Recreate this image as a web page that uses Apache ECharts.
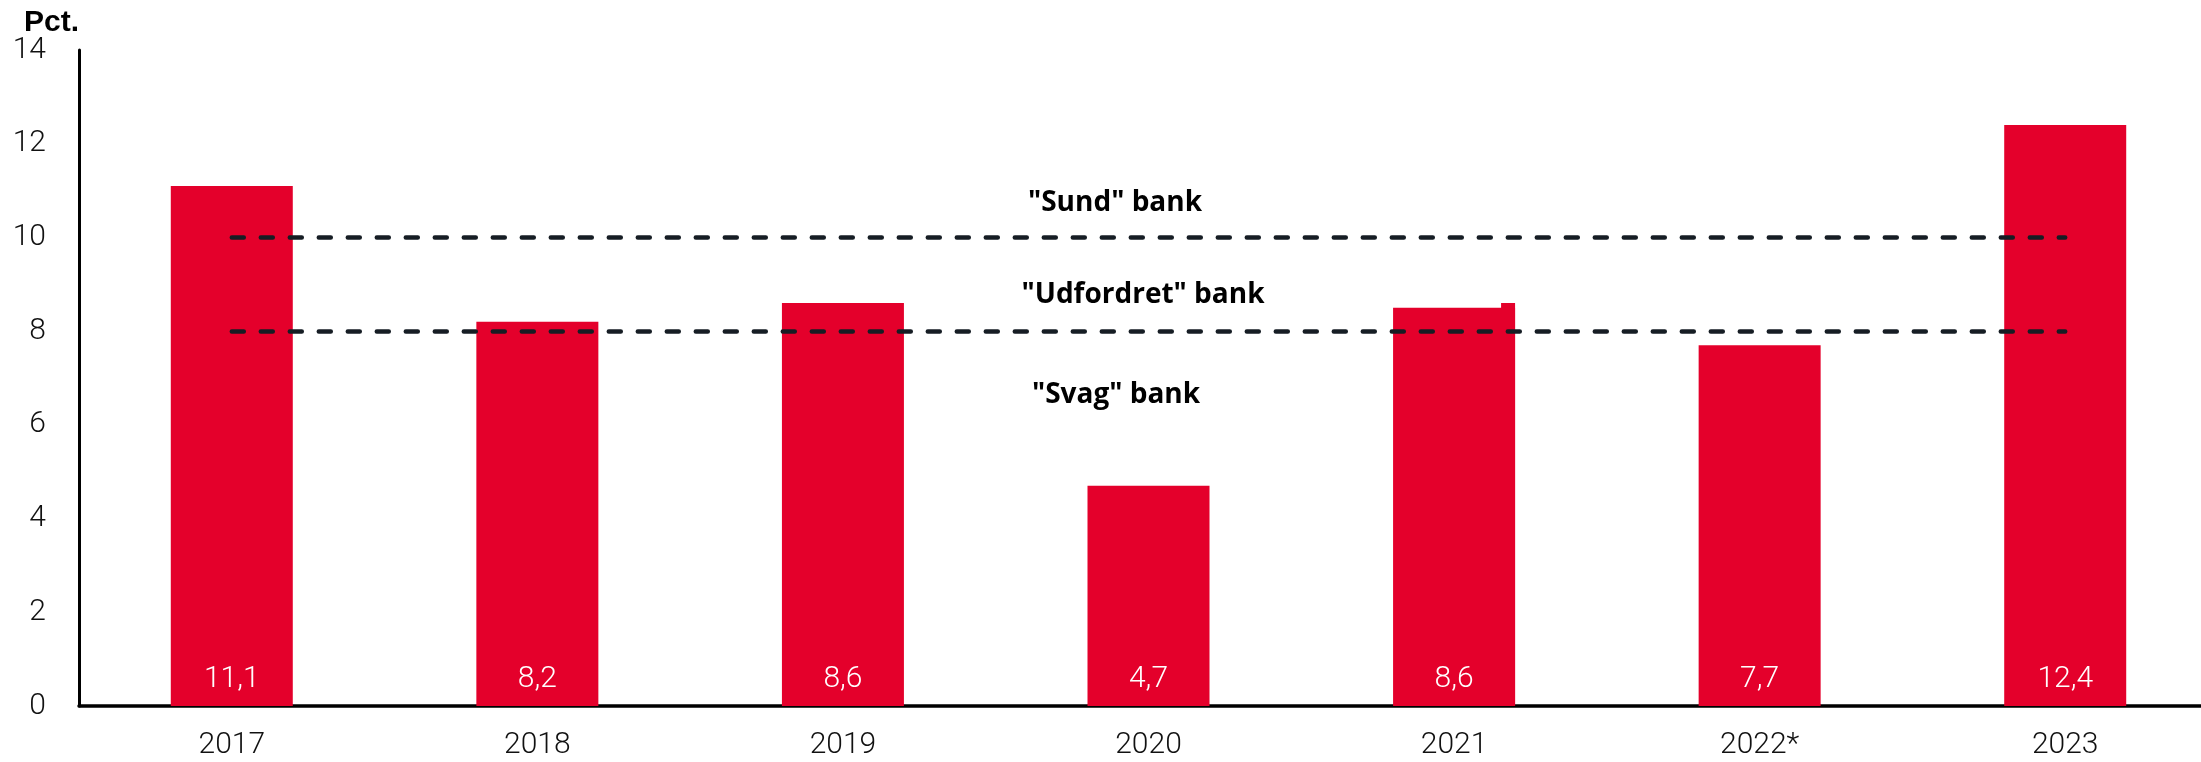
<!DOCTYPE html>
<html>
<head>
<meta charset="utf-8">
<script src="https://cdn.jsdelivr.net/npm/echarts@6/dist/echarts.min.js"></script>
<style>
  html, body { margin: 0; padding: 0; background: #ffffff; overflow: hidden; width: 2201px; height: 762px; }
  #chart { width: 2218px; height: 762px; }
</style>
</head>
<body>
<div id="chart"></div>
<script>
const categories = ['2017', '2018', '2019', '2020', '2021', '2022*', '2023'];
const barValues = [11.1, 8.2, 8.6, 4.7, 8.5, 7.7, 12.4];
const barLabels = ['11,1', '8,2', '8,6', '4,7', '8,6', '7,7', '12,4'];
const stepValues = [null, null, null, null, 8.6, null, null];
const thresholds = [10, 8];
const bandNames = ['"Sund" bank', '"Udfordret" bank', '"Svag" bank'];
const yTitle = 'Pct.';

const RED = '#e4002b';
const BAR_W = 122;
const labelFont = 'Roboto';

const chart = echarts.init(document.getElementById('chart'), null, { renderer: 'canvas' });

const stepData = stepValues.map((v, i) => [i, v]).filter(d => d[1] != null);

const option = {
  animation: false,
  backgroundColor: '#ffffff',
  grid: { left: 79, top: 50, right: 0, bottom: 56 },
  xAxis: {
    type: 'category',
    data: categories,
    axisLine: { show: true, lineStyle: { color: '#000000', width: 3.5 } },
    axisTick: { show: false },
    axisLabel: { color: '#111111', fontSize: 30, fontFamily: labelFont, fontWeight: 300, margin: 24 }
  },
  yAxis: {
    type: 'value',
    min: 0, max: 14, interval: 2,
    axisLine: { show: true, lineStyle: { color: '#000000', width: 3 } },
    axisTick: { show: false },
    splitLine: { show: false },
    axisLabel: { color: '#111111', fontSize: 30, fontFamily: labelFont, fontWeight: 300, margin: 33 }
  },
  series: [
    {
      type: 'bar',
      data: barValues,
      barWidth: BAR_W,
      itemStyle: { color: RED },
      z: 2,
      label: {
        show: true,
        position: 'insideBottom',
        distance: 12,
        color: '#ffffff',
        fontSize: 30,
        fontFamily: labelFont,
        fontWeight: 300,
        formatter: p => barLabels[p.dataIndex]
      },
      markLine: {
        silent: true,
        symbol: ['none', 'none'],
        z: 10,
        label: { show: false },
        lineStyle: { color: '#161d24', width: 4.5, type: [12, 17], cap: 'round' },
        data: thresholds.map(t => [{ coord: [0, t] }, { coord: [categories.length - 1, t] }])
      }
    },
    {
      type: 'custom',
      z: 2,
      data: stepData,
      encode: { x: 0, y: 1 },
      renderItem: function (params, api) {
        const top = api.coord([api.value(0), api.value(1)]);
        const base = api.coord([api.value(0), 0]);
        const w = 14;
        return {
          type: 'rect',
          shape: { x: top[0] + BAR_W / 2 - w, y: top[1], width: w, height: base[1] - top[1] },
          style: { fill: RED }
        };
      }
    }
  ],
  graphic: [
    { type: 'text', left: 24, top: 8, style: { text: yTitle, font: 'bold 30px "Liberation Sans"', fill: '#000000' } },
    { type: 'text', x: 1115, y: 203, style: { text: bandNames[0], font: 'bold 28px "Open Sans"', fill: '#000000', textAlign: 'center', textVerticalAlign: 'middle' } },
    { type: 'text', x: 1143, y: 295, style: { text: bandNames[1], font: 'bold 28px "Open Sans"', fill: '#000000', textAlign: 'center', textVerticalAlign: 'middle' } },
    { type: 'text', x: 1116, y: 395, style: { text: bandNames[2], font: 'bold 28px "Open Sans"', fill: '#000000', textAlign: 'center', textVerticalAlign: 'middle' } }
  ]
};

chart.setOption(option);
</script>
</body>
</html>
